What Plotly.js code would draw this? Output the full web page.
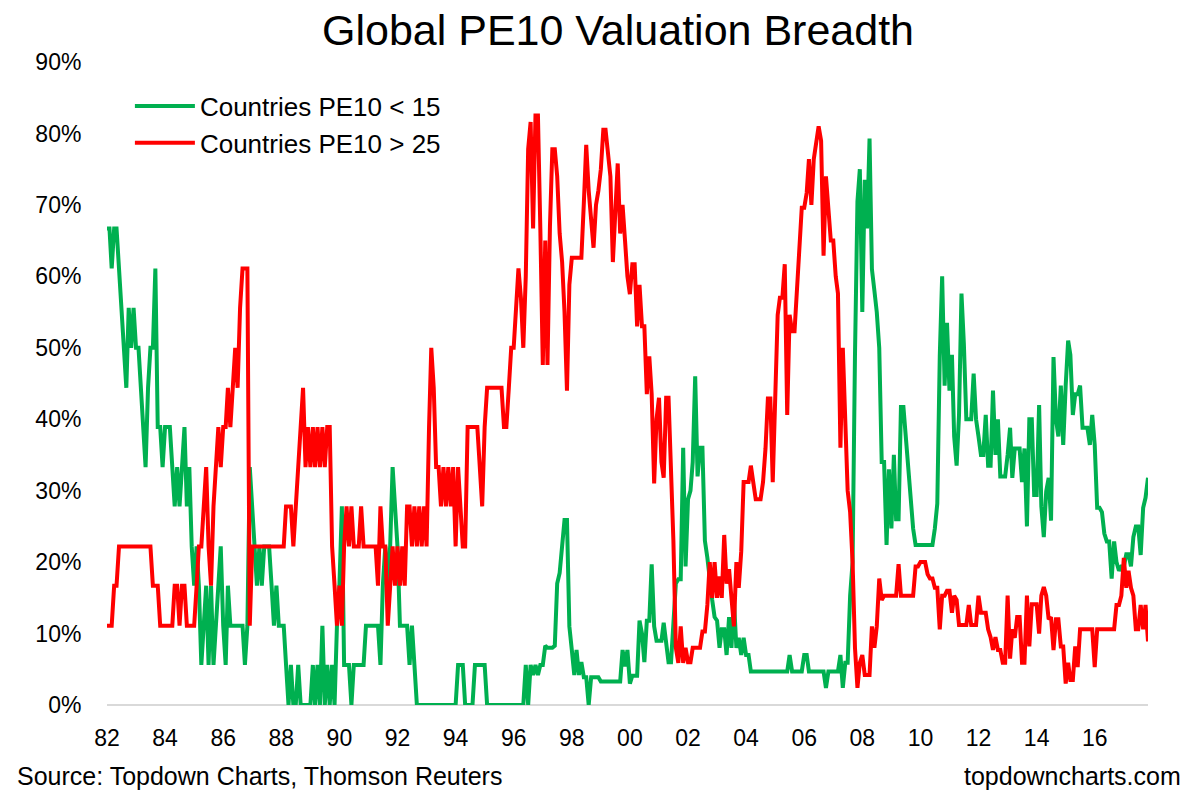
<!DOCTYPE html>
<html>
<head>
<meta charset="utf-8">
<script src="https://cdn.plot.ly/plotly-3.0.1.min.js"></script>
<style>
  html, body { margin: 0; padding: 0; background: #ffffff; }
  #chart { width: 1200px; height: 798px; }
</style>
</head>
<body>
<div id="chart"></div>
<script>
// Monthly series, Jan 1982 .. Nov 2017 (percent of countries)
const startYear = 1982;
const startMonth = 1;

const seriesNames = ["Countries PE10 < 15", "Countries PE10 > 25"];

const cheap = [
  // 1982
  66.7, 66.7, 61.1, 66.7, 66.7, 61.1, 55.6, 50, 44.4, 55.6, 50, 55.6,
  // 1983
  50, 50, 44.4, 38.9, 33.3, 44.4, 50, 50, 61.1, 38.9, 38.9, 33.3,
  // 1984
  38.9, 38.9, 38.9, 33.3, 27.8, 33.3, 27.8, 33.3, 38.9, 27.8, 33.3, 22.2,
  // 1985
  16.7, 22.2, 16.7, 5.6, 11.1, 16.7, 5.6, 16.7, 5.6, 11.1, 16.7, 22.2,
  // 1986
  11.1, 5.6, 16.7, 11.1, 11.1, 11.1, 11.1, 11.1, 11.1, 5.6, 11.1, 33.3,
  // 1987
  27.8, 22.2, 16.7, 22.2, 16.7, 22.2, 22.2, 22.2, 16.7, 11.1, 16.7, 11.1,
  // 1988
  11.1, 11.1, 5.6, 0, 5.6, 0, 0, 5.6, 0, 0, 0, 0,
  // 1989
  0, 5.6, 0, 5.6, 0, 11.1, 0, 5.6, 0, 5.6, 0, 11.1,
  // 1990
  16.7, 27.8, 5.6, 5.6, 5.6, 0, 5.6, 5.6, 5.6, 5.6, 5.6, 11.1,
  // 1991
  11.1, 11.1, 11.1, 11.1, 11.1, 5.6, 16.7, 22.2, 16.7, 22.2, 33.3, 27.8,
  // 1992
  22.2, 11.1, 11.1, 11.1, 11.1, 5.6, 11.1, 5.6, 0, 0, 0, 0,
  // 1993
  0, 0, 0, 0, 0, 0, 0, 0, 0, 0, 0, 0,
  // 1994
  0, 5.6, 5.6, 5.6, 0, 0, 0, 0, 5.6, 5.6, 5.6, 5.6,
  // 1995
  5.6, 0, 0, 0, 0, 0, 0, 0, 0, 0, 0, 0,
  // 1996
  0, 0, 0, 0, 0, 5.6, 0, 5.6, 4.2, 5.6, 4.2, 5.6,
  // 1997
  5.6, 8.3, 8, 8, 8, 8.3, 17, 18.5, 22.3, 25.9, 25.9, 11,
  // 1998
  7.7, 4.2, 7.7, 4.2, 6, 3.9, 3.9, 0, 3.9, 3.9, 3.9, 3.9,
  // 1999
  3.3, 3.3, 3.3, 3.3, 3.3, 3.3, 3.3, 3.3, 3.3, 7.7, 5.4, 7.7,
  // 2000
  3, 4.1, 4.1, 4.1, 11.8, 10, 6, 11.8, 11.8, 19.7, 11, 9,
  // 2001
  9, 9, 11.5, 8, 6, 6, 11.8, 17, 17.6, 17.6, 36, 19.4,
  // 2002
  28.8, 30, 34, 46, 32, 36, 36, 23, 20.6, 17, 14.7, 12.3,
  // 2003
  11.8, 8, 10.6, 10.6, 7, 12.3, 8, 14.7, 8, 9.4, 7, 9.4,
  // 2004
  7, 7, 4.7, 4.7, 4.7, 4.7, 4.7, 4.7, 4.7, 4.7, 4.7, 4.7,
  // 2005
  4.7, 4.7, 4.7, 4.7, 4.7, 4.7, 7, 4.7, 4.7, 4.7, 4.7, 4.7,
  // 2006
  7, 7, 4.7, 4.7, 4.7, 4.7, 4.7, 4.7, 4.7, 2.4, 4.7, 4.7,
  // 2007
  4.7, 4.7, 4.7, 7, 2.4, 5.9, 5.9, 15.3, 20, 49, 70.5, 75,
  // 2008
  55, 73.5, 66.7, 79.3, 61, 58, 55, 50, 34, 34, 22.4, 33,
  // 2009
  24.7, 35, 26, 26, 41.7, 41.7, 37.6, 31.8, 28, 24.7, 22.4, 22.4,
  // 2010
  22.4, 22.4, 22.4, 22.4, 22.4, 22.4, 24.7, 28.2, 48.8, 60, 44.7, 53.5,
  // 2011
  44, 49, 37.6, 33.5, 40.6, 57.6, 50.5, 40, 40, 40, 46.4, 40,
  // 2012
  37.6, 35, 35, 40.6, 33.5, 33.5, 44, 35, 40, 32, 32, 32,
  // 2013
  35, 38.8, 31.8, 35.9, 35.9, 35.9, 31.2, 35.9, 25, 40, 40, 29.4,
  // 2014
  29.4, 42, 27.8, 23.5, 29.9, 31.8, 25.8, 48.7, 40, 37.6, 44.7, 36.4,
  // 2015
  44.7, 51, 49, 40.6, 43.5, 43.5, 44.7, 38.8, 38.8, 38.8, 36.4, 40.6,
  // 2016
  36.4, 27.6, 27.6, 27, 24, 22.9, 22.9, 17.7, 22.9, 20, 18.8, 19.4,
  // 2017
  19.4, 21.1, 21.1, 19.4, 23.5, 25, 25, 21, 27.6, 29, 31.8
];

const expensive = [
  // 1982
  11.1, 11.1, 11.1, 16.7, 16.7, 22.2, 22.2, 22.2, 22.2, 22.2, 22.2, 22.2,
  // 1983
  22.2, 22.2, 22.2, 22.2, 22.2, 22.2, 22.2, 16.7, 16.7, 16.7, 11.1, 11.1,
  // 1984
  11.1, 11.1, 11.1, 11.1, 16.7, 16.7, 11.1, 16.7, 16.7, 11.1, 11.1, 11.1,
  // 1985
  11.1, 16.7, 22.2, 22.2, 27.8, 33.3, 22.2, 16.7, 27.8, 33.3, 38.9, 33.3,
  // 1986
  38.9, 38.9, 44.4, 38.9, 44.4, 50, 44.4, 55.6, 61.1, 61.1, 61.1, 11.1,
  // 1987
  22.2, 22.2, 22.2, 22.2, 22.2, 22.2, 22.2, 22.2, 22.2, 22.2, 22.2, 22.2,
  // 1988
  22.2, 22.2, 27.8, 27.8, 27.8, 22.2, 27.8, 33.3, 38.9, 44.4, 33.3, 38.9,
  // 1989
  33.3, 38.9, 33.3, 38.9, 33.3, 38.9, 33.3, 38.9, 38.9, 22.2, 16.7, 11.1,
  // 1990
  16.7, 11.1, 22.2, 27.8, 22.2, 27.8, 22.2, 22.2, 22.2, 27.8, 22.2, 22.2,
  // 1991
  22.2, 22.2, 22.2, 22.2, 16.7, 27.8, 22.2, 22.2, 11.1, 16.7, 22.2, 16.7,
  // 1992
  22.2, 16.7, 22.2, 16.7, 27.8, 27.8, 22.2, 27.8, 22.2, 27.8, 22.2, 27.8,
  // 1993
  22.2, 38.9, 50, 44.4, 33.3, 33.3, 27.8, 33.3, 27.8, 33.3, 27.8, 33.3,
  // 1994
  22.2, 33.3, 27.8, 22.2, 22.2, 38.9, 38.9, 38.9, 38.9, 38.9, 33.3, 27.8,
  // 1995
  38.9, 44.4, 44.4, 44.4, 44.4, 44.4, 44.4, 44.4, 38.9, 38.9, 44.4, 50,
  // 1996
  50, 55.6, 61.1, 57, 50, 60, 77.8, 81.6, 66.7, 82.5, 82.5, 66.7,
  // 1997
  47.6, 65, 47.6, 67, 77.8, 77.8, 74, 66, 62, 55, 44, 58.8,
  // 1998
  62.6, 62.6, 62.6, 62.6, 62.6, 70.2, 78.4, 72, 67, 64, 70, 72,
  // 1999
  75, 80.5, 80.5, 77, 74, 62, 70, 75.8, 66, 70, 65, 60,
  // 2000
  57.5, 61.7, 61.7, 53, 58.8, 53, 53, 43.5, 48.8, 43.5, 31, 40,
  // 2001
  43, 34, 31.8, 43, 43, 34, 23, 8, 5.9, 11, 5.9, 8,
  // 2002
  6, 6, 8, 8, 8, 8, 10.3, 10.3, 14, 20, 15, 20,
  // 2003
  15, 18, 15, 23.8, 17, 19, 15, 11, 20, 16.4, 21.5, 31.2,
  // 2004
  31.2, 31.2, 33.5, 31.2, 28.8, 28.8, 28.8, 31.2, 35.9, 42.9, 42.9, 31.2,
  // 2005
  45.3, 54.6, 57, 57, 61.7, 40.6, 54.6, 52.3, 52.3, 58, 62, 69.6,
  // 2006
  69.6, 71.7, 76.4, 70, 76.4, 79, 81, 79, 62.9, 74, 70, 65,
  // 2007
  65, 60, 57.6, 36, 50, 39, 30, 27, 20, 8, 2.4, 5.9,
  // 2008
  7, 4.2, 4.2, 4.2, 11, 8, 11, 17.7, 14.7, 15.3, 15.3, 15.3,
  // 2009
  15.3, 15.3, 15.3, 19.7, 15.3, 15.3, 15.3, 15.3, 15.3, 15.3, 19.4, 19.4,
  // 2010
  20, 20, 20, 18.3, 17.7, 17.7, 16.4, 16.4, 10.6, 15.3, 15.3, 16,
  // 2011
  16, 12.9, 15.3, 14.7, 11.2, 11.2, 11.2, 11.2, 14, 11.2, 11.2, 11.2,
  // 2012
  15.3, 12.9, 12.9, 12.9, 10.6, 9.5, 7.7, 9.5, 7.7, 7.7, 5.9, 5.9,
  // 2013
  15.3, 6.5, 10.6, 9.4, 12.3, 12.3, 5.9, 5.9, 15.3, 8.2, 14.1, 14.1,
  // 2014
  14.1, 10, 15.3, 16.5, 15.3, 12, 12.3, 7.7, 12, 12, 8.2, 8.2,
  // 2015
  3, 5.9, 3.5, 3.5, 8.2, 5.3, 10.6, 10.6, 10.6, 10.6, 10.6, 10.6,
  // 2016
  5.3, 10.6, 10.6, 10.6, 10.6, 10.6, 10.6, 10.6, 10.6, 14, 14, 15.3,
  // 2017
  20.6, 16.4, 18.8, 16.4, 15.3, 10.6, 10.6, 14, 10.6, 14, 8.9
];

const tickYears = [1982, 1984, 1986, 1988, 1990, 1992, 1994, 1996, 1998, 2000,
                   2002, 2004, 2006, 2008, 2010, 2012, 2014, 2016];
const tickLabels = ["82", "84", "86", "88", "90", "92", "94", "96", "98", "00",
                    "02", "04", "06", "08", "10", "12", "14", "16"];
const yTickVals = [0, 10, 20, 30, 40, 50, 60, 70, 80, 90];
const yTickLabels = ["0%", "10%", "20%", "30%", "40%", "50%", "60%", "70%", "80%", "90%"];

// build monthly date categories
function monthDates(n) {
  const out = [];
  for (let i = 0; i < n; i++) {
    const y = startYear + Math.floor((startMonth - 1 + i) / 12);
    const m = ((startMonth - 1 + i) % 12) + 1;
    out.push(y + "-" + (m < 10 ? "0" + m : m) + "-01");
  }
  return out;
}
const dates = monthDates(cheap.length);

const FONT = "Liberation Sans, Arial, sans-serif";

const traces = [
  {
    x: dates, y: cheap, name: seriesNames[0], type: "scatter", mode: "lines",
    line: { color: "#00B050", width: 4 }
  },
  {
    x: dates, y: expensive, name: seriesNames[1], type: "scatter", mode: "lines",
    line: { color: "#FF0000", width: 4 }
  }
];

const layout = {
  width: 1200, height: 798,
  margin: { l: 107, r: 52, t: 62, b: 93 },
  paper_bgcolor: "#ffffff", plot_bgcolor: "#ffffff",
  font: { family: FONT, color: "#000000", size: 22 },
  title: {
    text: "Global PE10 Valuation Breadth",
    font: { family: FONT, size: 43, color: "#000000" },
    x: 0.515, xanchor: "center", y: 0.963, yanchor: "middle"
  },
  showlegend: true,
  legend: {
    x: 0.022, y: 0.968, xanchor: "left", yanchor: "top",
    bgcolor: "rgba(255,255,255,0)", font: { family: FONT, size: 26, color: "#000000" },
    itemwidth: 60, tracegroupgap: 0
  },
  xaxis: {
    type: "date",
    range: [dates[0], dates[dates.length - 1]],
    tickvals: tickYears.map(y => y + "-01-01"),
    ticktext: tickLabels,
    ticks: "outside", ticklen: 12, tickcolor: "rgba(0,0,0,0)",
    tickfont: { family: FONT, size: 23, color: "#000000" },
    showgrid: false, zeroline: false,
    showline: false
  },
  yaxis: {
    range: [0, 90],
    tickvals: yTickVals,
    ticktext: yTickLabels,
    ticks: "outside", ticklen: 20, tickcolor: "rgba(0,0,0,0)",
    tickfont: { family: FONT, size: 23, color: "#000000" },
    showgrid: false, zeroline: true, zerolinecolor: "#d9d9d9", zerolinewidth: 2,
    showline: false
  },
  annotations: [
    {
      text: "Source: Topdown Charts, Thomson Reuters",
      xref: "paper", yref: "paper", x: -0.0884, y: -0.110,
      xanchor: "left", yanchor: "middle", showarrow: false,
      font: { family: FONT, size: 25, color: "#000000" }
    },
    {
      text: "topdowncharts.com",
      xref: "paper", yref: "paper", x: 1.0336, y: -0.110,
      xanchor: "right", yanchor: "middle", showarrow: false,
      font: { family: FONT, size: 25, color: "#000000" }
    }
  ]
};

Plotly.newPlot("chart", traces, layout, { displayModeBar: false, staticPlot: true });
</script>
</body>
</html>
